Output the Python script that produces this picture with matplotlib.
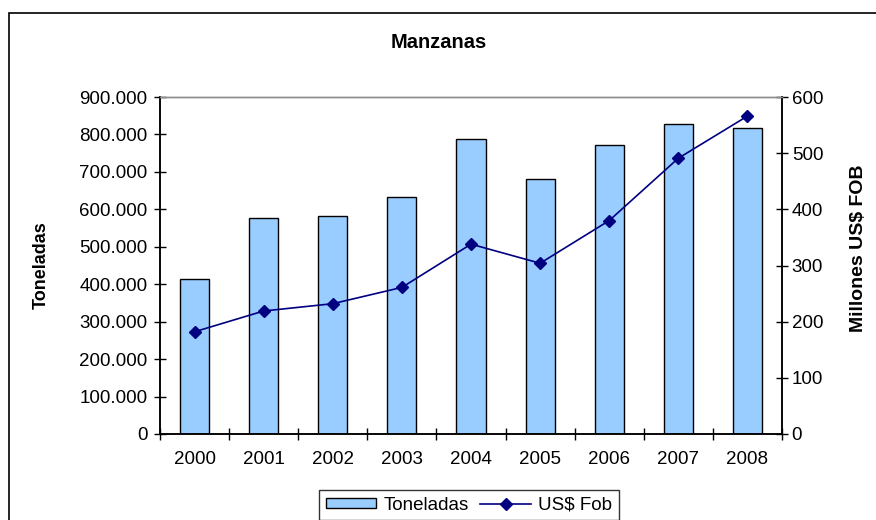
import matplotlib
matplotlib.use("Agg")
import matplotlib.pyplot as plt
from matplotlib.patches import Rectangle
from matplotlib.ticker import FuncFormatter, MultipleLocator, FixedLocator

years = ["2000", "2001", "2002", "2003", "2004", "2005", "2006", "2007", "2008"]
toneladas = [415000, 578000, 582000, 634000, 788000, 682000, 772000, 829000, 816000]
us_fob = [182, 219, 232, 261, 338, 304, 380, 491, 566]

plt.rcParams['font.family'] = ['Liberation Sans', 'DejaVu Sans']

fig = plt.figure(figsize=(8.76, 5.2), dpi=100)
ax = fig.add_axes([160 / 876, 1 - 434 / 520, 622 / 876, 337 / 520])
ax2 = ax.twinx()

x = list(range(len(years)))
bars = ax.bar(x, toneladas, width=0.42, color="#99CCFF", edgecolor="black",
              linewidth=1.0, label="Toneladas", zorder=2)
line, = ax2.plot(x, us_fob, color="#000080", linewidth=1.2, marker="D",
                 markersize=6.5, label="US$ Fob", zorder=3)

ax.set_xlim(-0.5, len(years) - 0.5)
ax.set_ylim(0, 900000)
ax2.set_ylim(0, 600)

ax.yaxis.set_major_locator(MultipleLocator(100000))
ax.yaxis.set_major_formatter(FuncFormatter(lambda v, p: f"{int(v):,}".replace(",", ".")))
ax2.yaxis.set_major_locator(MultipleLocator(100))

ax.set_xticks(x)
ax.set_xticklabels(years)
ax.xaxis.set_minor_locator(FixedLocator([i + 0.5 for i in range(-1, len(years))]))
ax.tick_params(axis="x", which="major", length=0, pad=12, labelsize=13.5)
ax.tick_params(axis="x", which="minor", direction="inout", length=8, width=1.0)
ax.tick_params(axis="y", direction="inout", length=8, width=1.0, pad=5, labelsize=13.5)
ax2.tick_params(axis="y", direction="inout", length=8, width=1.0, pad=3, labelsize=13.5)

for a in (ax, ax2):
    a.spines["top"].set_color("#8c8c8c")
    a.spines["top"].set_linewidth(1.0)
    for s in ("left", "right", "bottom"):
        a.spines[s].set_linewidth(1.1)
        a.spines[s].set_color("black")

ax.set_ylabel("Toneladas", fontsize=13, fontweight="bold")
ax.yaxis.set_label_coords(-0.178, 0.5)
ax2.set_ylabel("Millones US$ FOB", fontsize=14, fontweight="bold")
ax2.yaxis.set_label_coords(1.109, 0.55)

fig.text(439 / 876, 1 - 42 / 520, "Manzanas", ha="center", va="center",
         fontsize=14.5, fontweight="bold")

# outer chart border (right and bottom edges fall outside the image)
top = 1 - 12.5 / 520
fig.patches.append(Rectangle((9 / 876, -0.2), 1.2, top + 0.2,
                             transform=fig.transFigure, fill=False,
                             edgecolor="black", linewidth=1.2))

leg = fig.legend([bars, line], ["Toneladas", "US$ Fob"], loc="upper center",
                 bbox_to_anchor=(469 / 876, 1 - 490 / 520), ncol=2, fontsize=13.5,
                 frameon=True, fancybox=False, handlelength=2.7, handleheight=0.5,
                 columnspacing=0.6, handletextpad=0.4, borderpad=0.35,
                 borderaxespad=0)
leg.get_frame().set_edgecolor("black")
leg.get_frame().set_linewidth(1.0)

fig.savefig("out.png", dpi=100)
